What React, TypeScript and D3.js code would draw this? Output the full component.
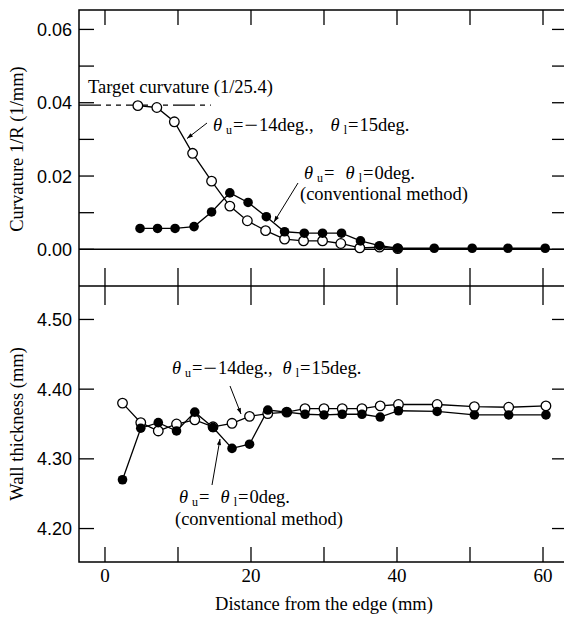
import * as d3 from 'd3';
import React from 'react';

// distance from the edge (mm) and curvature (1/mm)
const curvDistOpen = [4.5, 7.1, 9.5, 12.0, 14.6, 17.1, 19.5, 22.0, 24.6, 27.2, 29.8, 32.3, 34.9, 37.6, 40.1];
const curvOpen = [0.0392, 0.0387, 0.0348, 0.0262, 0.0186, 0.0118, 0.0078, 0.0051, 0.0028, 0.0023, 0.0023, 0.0016, 0.0004, 0.0006, 0.0002];
const curvDistFilled = [4.8, 7.2, 9.6, 12.2, 14.6, 17.1, 19.6, 22.1, 24.6, 27.3, 29.8, 32.4, 35.0, 37.6, 40.1, 45.1, 50.3, 55.2, 60.3];
const curvFilled = [0.0057, 0.0057, 0.0057, 0.0062, 0.0102, 0.0154, 0.0128, 0.0089, 0.0048, 0.0044, 0.0044, 0.0044, 0.0023, 0.001, 0.0003, 0.0003, 0.0003, 0.0003, 0.0003];
const targetCurvature = 1 / 25.4;

// wall thickness (mm), lower panel
const thickDist = [2.4, 4.9, 7.3, 9.8, 12.3, 14.8, 17.4, 19.8, 22.3, 24.9, 27.4, 30.0, 32.5, 35.2, 37.7, 40.2, 45.5, 50.6, 55.3, 60.4];
const thickOpen = [4.380, 4.352, 4.340, 4.350, 4.356, 4.346, 4.351, 4.361, 4.365, 4.367, 4.372, 4.372, 4.372, 4.372, 4.376, 4.378, 4.378, 4.375, 4.374, 4.376];
const thickFilled = [4.270, 4.344, 4.352, 4.340, 4.367, 4.345, 4.315, 4.321, 4.370, 4.367, 4.364, 4.363, 4.364, 4.364, 4.360, 4.369, 4.368, 4.363, 4.363, 4.363];

// ticks
const distTicks = [0, 10, 20, 30, 40, 50, 60];
const distLabels = [0, 20, 40, 60];
const curvTicks = [0, 0.01, 0.02, 0.03, 0.04, 0.05, 0.06];
const curvLabels = [0, 0.02, 0.04, 0.06];
const thickTicks = [4.2, 4.3, 4.4, 4.5];

const serif = '"Liberation Serif", "Times New Roman", serif';
const sans = '"Liberation Sans", Arial, sans-serif';

// "θ_sub=" piece of the annotations
const theta = (sub: string, lead: number) => [
  <tspan key={sub + 'a'} dx={lead} fontStyle="italic">θ</tspan>,
  <tspan key={sub + 'b'} fontSize="12" dx="4" dy="3">{sub}</tspan>,
  <tspan key={sub + 'c'} dx="1" dy="-3">=</tspan>,
];

// wide minus sign as in the original figure
const minus = [
  <tspan key="m1" dx="1" dy="1.5" fontSize="24">−</tspan>,
  <tspan key="m2" dx="1" dy="-1.5">14deg.,</tspan>,
];

const App = () => {
  const left = 79;
  const right = 566;
  const topY = 10;
  const midY = 286;
  const bottomY = 562;

  const x = d3.scaleLinear().domain([-3.56, 63.15]).range([left, right]);
  const yC = d3.scaleLinear().domain([-0.01, 0.0653]).range([midY, topY]);
  const yT = d3.scaleLinear().domain([4.152, 4.548]).range([bottomY, midY]);

  const mk = (xs: number[], ys: number[], sc: d3.ScaleLinear<number, number>) =>
    d3.line<number>().x((d) => x(d)).y((d, i) => sc(ys[i]))(xs) || '';

  const r = 4.8;
  const sw = 1.3;

  return (
    <div style={{ position: 'fixed', left: 0, top: 0 }}>
      <svg width={564} height={617} style={{ display: 'block', background: '#fff' }}>
        <defs>
          <marker id="arr" viewBox="0 0 10 10" refX="10" refY="5" markerWidth="9" markerHeight="6" orient="auto" markerUnits="userSpaceOnUse">
            <path d="M0,1.5 L10,5 L0,8.5 Z" fill="#000" />
          </marker>
        </defs>

        {/* frames */}
        <rect x={left} y={topY} width={right - left} height={bottomY - topY} fill="none" stroke="#000" strokeWidth={1.5} />
        <line x1={left} x2={right} y1={midY} y2={midY} stroke="#000" strokeWidth={1.5} />
        <line x1={left} x2={right} y1={yC(0)} y2={yC(0)} stroke="#000" strokeWidth={1.5} />

        {/* x ticks */}
        {distTicks.map((t) => (
          <g key={'xt' + t}>
            <line x1={x(t)} x2={x(t)} y1={topY} y2={topY + 15} stroke="#000" strokeWidth={1.3} />
            <line x1={x(t)} x2={x(t)} y1={midY - 18} y2={midY + 19} stroke="#000" strokeWidth={1.3} />
            <line x1={x(t)} x2={x(t)} y1={bottomY - 15} y2={bottomY} stroke="#000" strokeWidth={1.3} />
          </g>
        ))}
        {distLabels.map((t) => (
          <text key={'xl' + t} x={x(t)} y={582} textAnchor="middle" fontFamily={serif} fontSize={19}>
            {t}
          </text>
        ))}

        {/* y ticks, curvature */}
        {curvTicks.map((t) => (
          <g key={'yc' + t}>
            <line x1={left} x2={left + 15} y1={yC(t)} y2={yC(t)} stroke="#000" strokeWidth={1.3} />
            <line x1={right - 14} x2={right} y1={yC(t)} y2={yC(t)} stroke="#000" strokeWidth={1.3} />
          </g>
        ))}
        {curvLabels.map((t) => (
          <text key={'ycl' + t} x={72} y={yC(t)} dy="0.36em" textAnchor="end" fontFamily={sans} fontSize={18}>
            {t.toFixed(2)}
          </text>
        ))}

        {/* y ticks, thickness */}
        {thickTicks.map((t) => (
          <g key={'yt' + t}>
            <line x1={left} x2={left + 15} y1={yT(t)} y2={yT(t)} stroke="#000" strokeWidth={1.3} />
            <line x1={right - 14} x2={right} y1={yT(t)} y2={yT(t)} stroke="#000" strokeWidth={1.3} />
            <text x={72} y={yT(t)} dy="0.36em" textAnchor="end" fontFamily={sans} fontSize={18}>
              {t.toFixed(2)}
            </text>
          </g>
        ))}

        {/* axis titles */}
        <text transform="translate(23,149) rotate(-90)" textAnchor="middle" fontFamily={serif} fontSize={18.5}>
          Curvature 1/R (1/mm)
        </text>
        <text transform="translate(23,424) rotate(-90)" textAnchor="middle" fontFamily={serif} fontSize={18.5}>
          Wall thickness (mm)
        </text>
        <text x={324} y={610} textAnchor="middle" fontFamily={serif} fontSize={18.5}>
          Distance from the edge (mm)
        </text>

        {/* target curvature */}
        <line
          x1={left}
          x2={x(14.5)}
          y1={yC(targetCurvature)}
          y2={yC(targetCurvature)}
          stroke="#000"
          strokeWidth={1.3}
          strokeDasharray="22,5,5,5,5,5"
        />
        <text x={88} y={93} fontFamily={serif} fontSize={18.5}>
          Target curvature (1/25.4)
        </text>

        {/* curvature series */}
        <path d={mk(curvDistOpen, curvOpen, yC)} fill="none" stroke="#000" strokeWidth={sw} />
        <path d={mk(curvDistFilled, curvFilled, yC)} fill="none" stroke="#000" strokeWidth={sw} />
        {curvDistOpen.map((d, i) => (
          <circle key={'co' + i} cx={x(d)} cy={yC(curvOpen[i])} r={r} fill="#fff" stroke="#000" strokeWidth={sw} />
        ))}
        {curvDistFilled.map((d, i) => (
          <circle key={'cf' + i} cx={x(d)} cy={yC(curvFilled[i])} r={r} fill="#000" />
        ))}

        {/* thickness series */}
        <path d={mk(thickDist, thickOpen, yT)} fill="none" stroke="#000" strokeWidth={sw} />
        <path d={mk(thickDist, thickFilled, yT)} fill="none" stroke="#000" strokeWidth={sw} />
        {thickDist.map((d, i) => (
          <circle key={'to' + i} cx={x(d)} cy={yT(thickOpen[i])} r={r} fill="#fff" stroke="#000" strokeWidth={sw} />
        ))}
        {thickDist.map((d, i) => (
          <circle key={'tf' + i} cx={x(d)} cy={yT(thickFilled[i])} r={r} fill="#000" />
        ))}

        {/* annotations, upper panel */}
        <line x1={207} y1={123} x2={187} y2={138.5} stroke="#000" strokeWidth={1} markerEnd="url(#arr)" />
        <text x={213} y={131} fontFamily={serif} fontSize={18.5}>
          {theta('u', 0)}
          {minus}
          {theta('l', 17)}
          <tspan dx="1">15deg.</tspan>
        </text>
        <line x1={298} y1={183} x2={274} y2={222} stroke="#000" strokeWidth={1} markerEnd="url(#arr)" />
        <text x={304} y={179} fontFamily={serif} fontSize={18.5}>
          {theta('u', 0)}
          {theta('l', 11)}
          <tspan dx="1">0deg.</tspan>
        </text>
        <text x={300} y={200} fontFamily={serif} fontSize={18.5}>
          (conventional method)
        </text>

        {/* annotations, lower panel */}
        <line x1={230} y1={386} x2={241} y2={414} stroke="#000" strokeWidth={1} markerEnd="url(#arr)" />
        <text x={172} y={374} fontFamily={serif} fontSize={18.5}>
          {theta('u', 0)}
          {minus}
          {theta('l', 10)}
          <tspan dx="1">15deg.</tspan>
        </text>
        <line x1={212} y1={485} x2={220} y2={439} stroke="#000" strokeWidth={1} markerEnd="url(#arr)" />
        <text x={179} y={503} fontFamily={serif} fontSize={18.5}>
          {theta('u', 0)}
          {theta('l', 11)}
          <tspan dx="1">0deg.</tspan>
        </text>
        <text x={175} y={525} fontFamily={serif} fontSize={18.5}>
          (conventional method)
        </text>
      </svg>
    </div>
  );
};

export default App;
